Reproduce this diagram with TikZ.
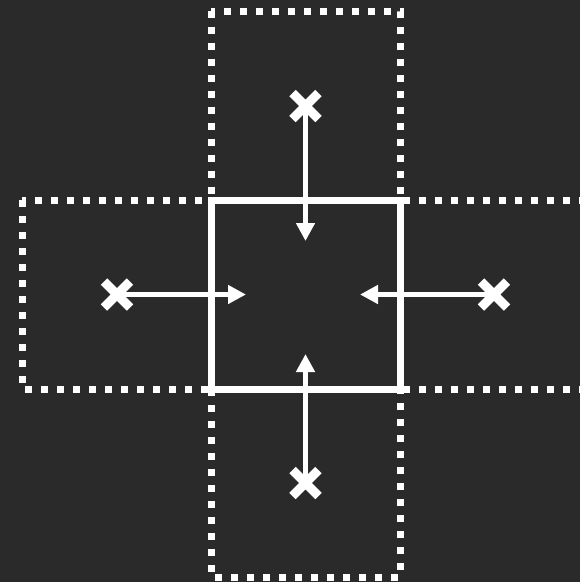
\documentclass[tikz,border=0pt]{standalone}
\usetikzlibrary{arrows.meta,shapes.misc}
\definecolor{bgc}{HTML}{2A2A2A}
\tikzset{
  dotbox/.style={draw=white, line width=7pt, dash pattern=on 7pt off 9pt},
  solidbox/.style={draw=white, line width=7pt},
  xmark/.style={cross out, draw=white, line width=9pt, minimum size=17pt, inner sep=0pt},
  pusharrow/.style={draw=white, line width=4.5pt, -{Triangle[length=18pt,width=18pt]}}
}
\begin{document}
\begin{tikzpicture}[x=1pt,y=-1pt]
\fill[bgc] (0,0) rectangle (580,582);
\useasboundingbox (0,0) rectangle (580,582);
% dotted neighbouring regions
\draw[dotbox] (211,11) rectangle (400,200);
\draw[dotbox] (22,200) rectangle (211,389);
\draw[dotbox] (400,200) rectangle (600,389);
\draw[dotbox] (211,389) rectangle (400,577);
% central square
\node[solidbox, minimum width=189pt, minimum height=189pt, inner sep=0pt, anchor=center] (sq) at (305.5,294.5) {};
% crosses
\node[xmark] (xt) at (305.5,106) {};
\node[xmark] (xl) at (117,294.5) {};
\node[xmark] (xr) at (494,294.5) {};
\node[xmark] (xb) at (305.5,483) {};
% arrow tips
\coordinate (tt) at (305.5,241);
\coordinate (tl) at (246,294.5);
\coordinate (tr) at (360,294.5);
\coordinate (tb) at (305.5,354);
\draw[pusharrow] (xt.center) -- (tt);
\draw[pusharrow] (xl.center) -- (tl);
\draw[pusharrow] (xr.center) -- (tr);
\draw[pusharrow] (xb.center) -- (tb);
\end{tikzpicture}
\end{document}
